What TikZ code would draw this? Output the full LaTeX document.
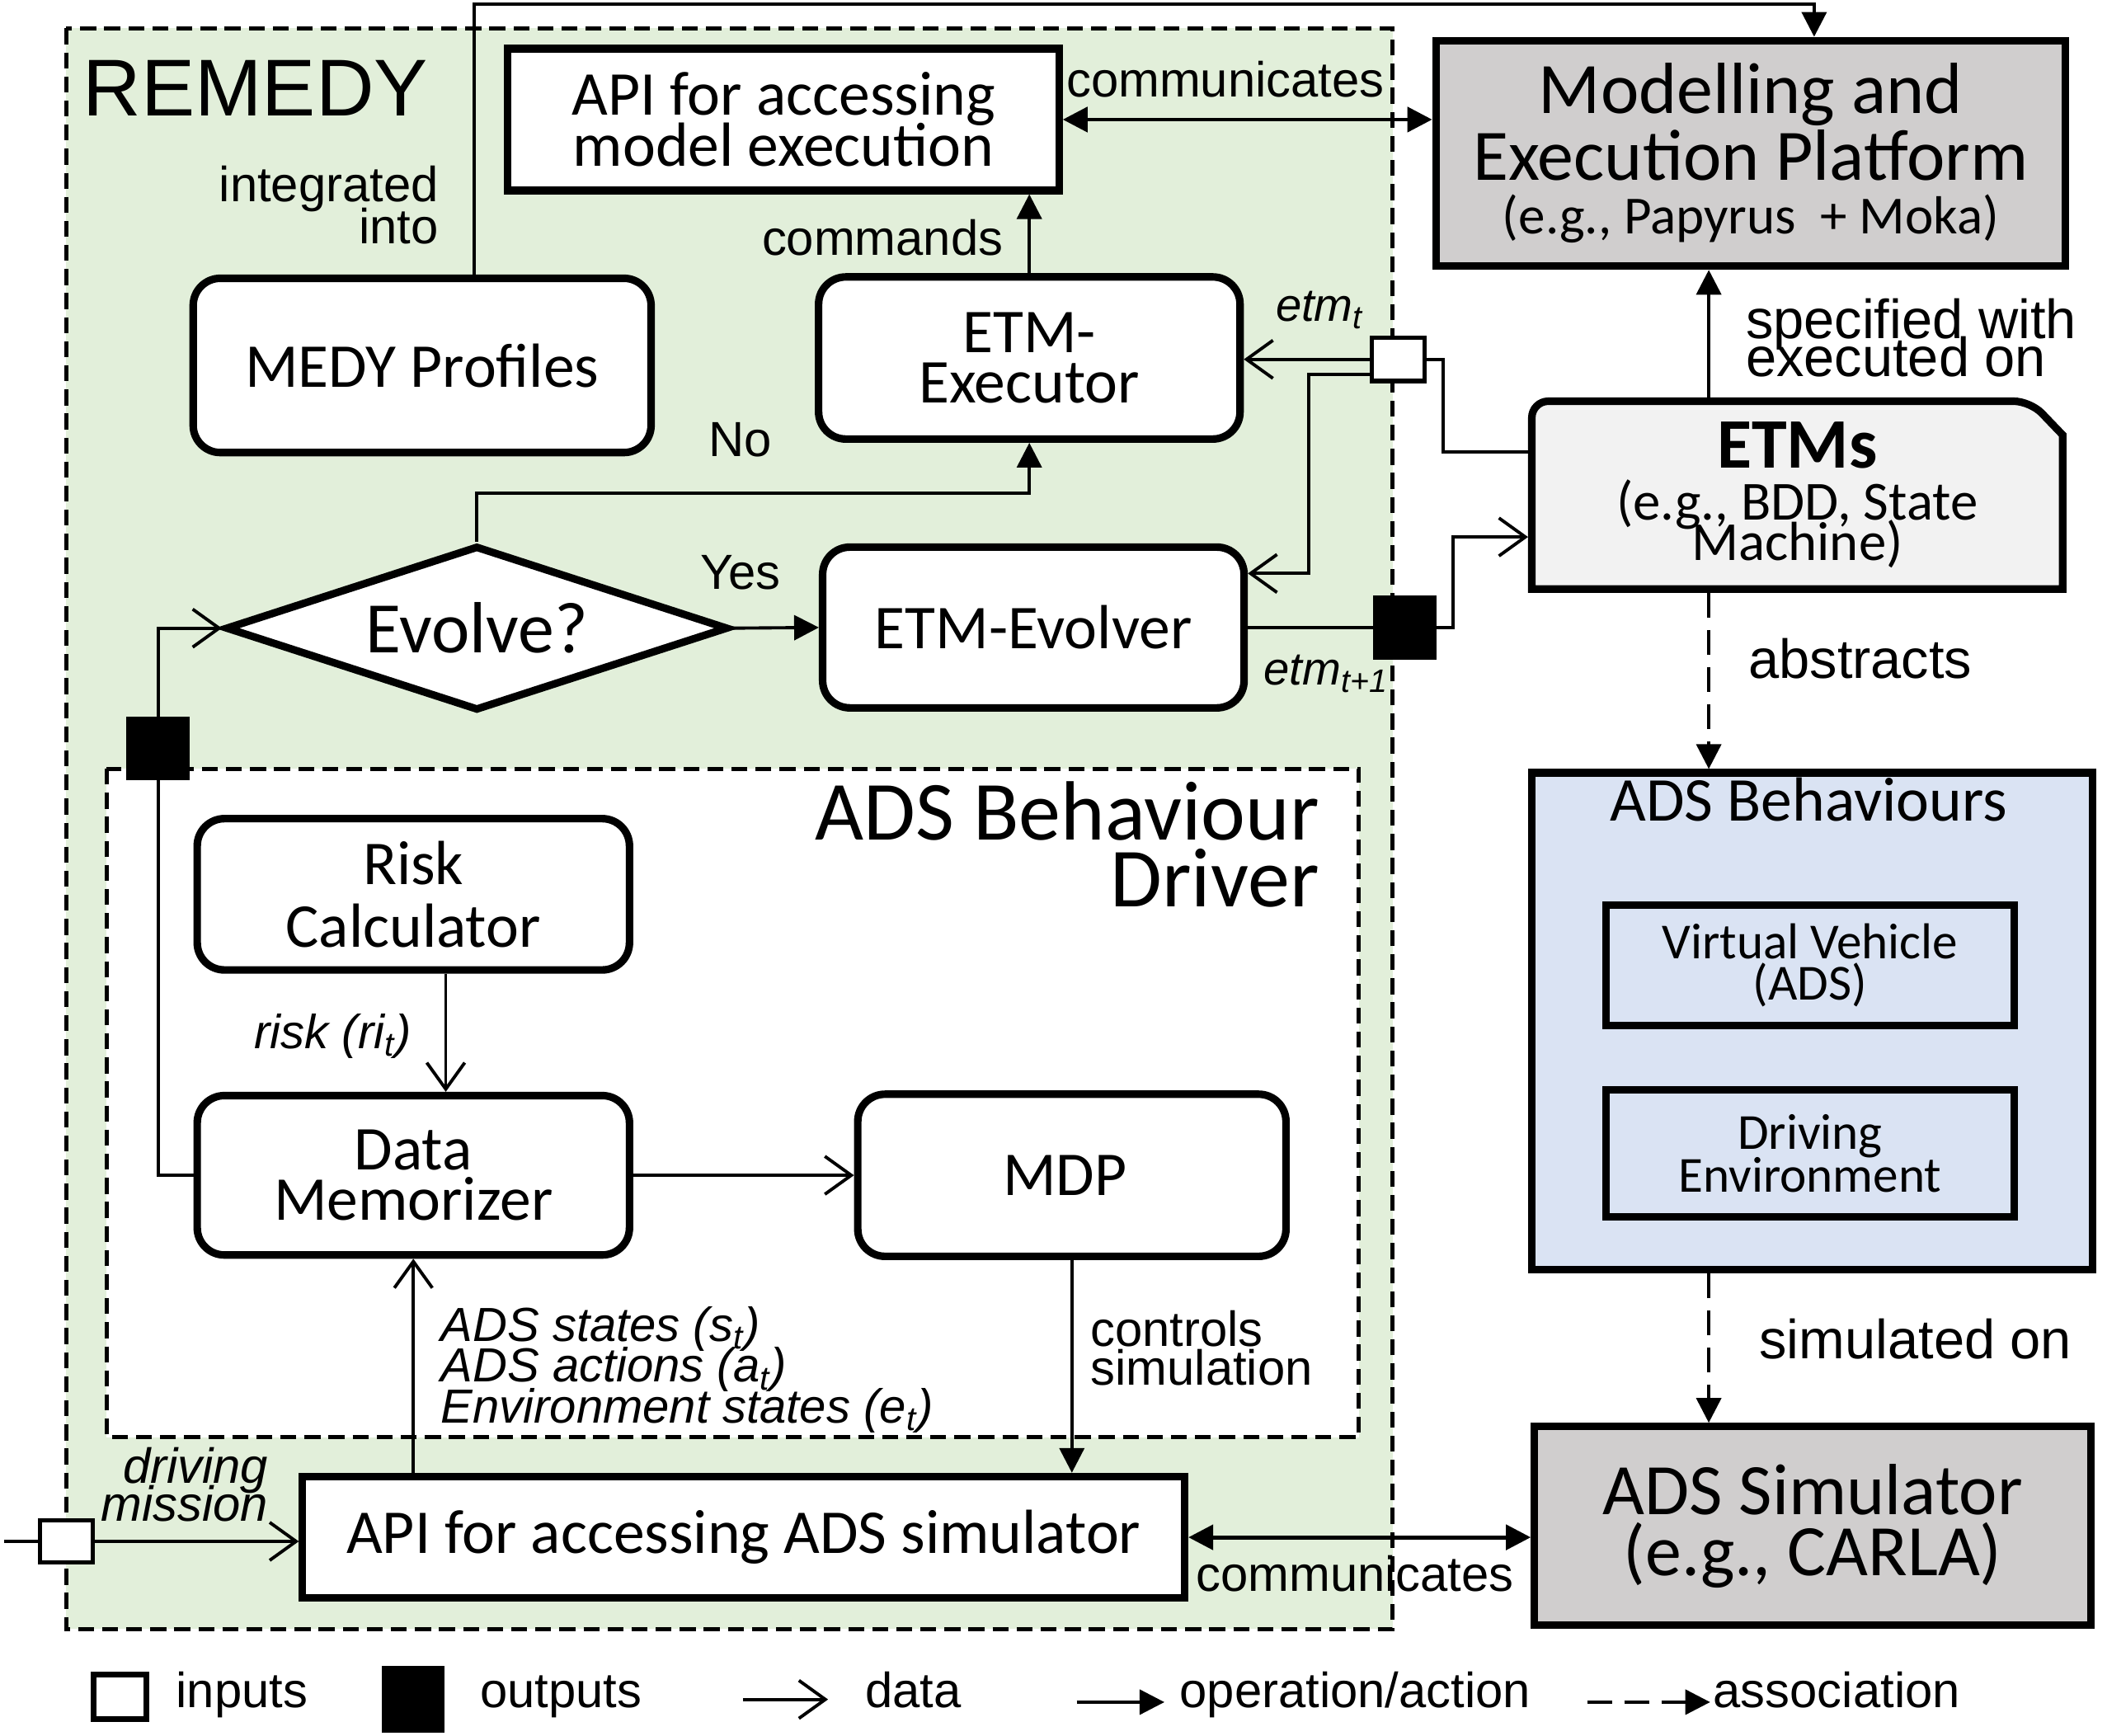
\documentclass[tikz,border=0pt]{standalone}
\usepackage{fontspec}
\setmainfont{Carlito}
\newfontfamily\lblfont{Liberation Sans}
\usetikzlibrary{arrows.meta,shapes.geometric,calc}
\newcommand{\dpx}{0.01638cm}
\lineskiplimit=-100pt
\definecolor{remgreen}{HTML}{E2EFDA}
\definecolor{platgray}{HTML}{D0CECE}
\definecolor{etmgray}{HTML}{F2F2F2}
\definecolor{behblue}{HTML}{DAE3F3}

\begin{document}
\begin{tikzpicture}[x=0.01638cm, y=-0.01638cm,
    wh/.style 2 args={minimum width=#1*\dpx, minimum height=#2*\dpx},
    box/.style={draw, line width=2.6pt, fill=white, inner sep=0pt, align=center,
        font=\fontsize{21.5}{17.5}\selectfont},
    proc/.style={box, rounded corners=0.33cm},
    port/.style={draw, line width=1.5pt, fill=white, inner sep=0pt},
    oport/.style={port, fill=black},
    region/.style={line width=1.4pt, dash pattern=on 5.5pt off 2.8pt},
    lbl/.style={inner sep=0pt, font=\lblfont\fontsize{17}{14.5}\selectfont},
    rlbl/.style={inner sep=0pt, font=\lblfont\fontsize{19}{13}\selectfont},
    itl/.style={inner sep=0pt, font=\lblfont\itshape\fontsize{16.5}{14}\selectfont},
    line/.style={line width=1.1pt},
    data/.style={line, -{Straight Barb[length=0.32cm,width=0.46cm]}},
    op/.style={line, -{Triangle[length=0.3cm,width=0.3cm]}},
    assoc/.style={op, dash pattern=on 8.5pt off 4.3pt},
    both/.style={line width=1.4pt, {Triangle[length=0.3cm,width=0.3cm]}-{Triangle[length=0.3cm,width=0.3cm]}}
    ]
    \useasboundingbox (0,0) rectangle (1559.8,1284.5);

    \draw[region, fill=remgreen] (49,21) rectangle (1031,1206);
    \draw[region, fill=white] (79,569) rectangle (1006,1064);
    \node[inner sep=0pt, anchor=base west, font=\lblfont\fontsize{27.8}{30}\selectfont] (remT) at (61,86) {REMEDY};
    \node[inner sep=0pt, anchor=east, align=right, font=\fontsize{29}{23}\selectfont] (drvT) at (977,625) {ADS Behaviour\\Driver};

    \foreach \n/\x/\w/\h/\l in{
        medy/{(312.5,270.5)}/339/129/{MEDY Profiles},
        exec/{(762,265)}/312/120/{ETM-\\Executor},
        evol/{(765,464.5)}/312/119/{ETM-Evolver},
        risk/{(306,662)}/320/112/{Risk\\[4pt]Calculator},
        memo/{(306,870)}/320/118/{Data\\Memorizer},
        mdp/{(793.5,870)}/317/120/{MDP}
        }
        {
            \node[proc, wh={\w}{\h}] (\n) at \x {\l};
        }
    \node[box, wh={408}{105}] (apiM) at (580,88.5) {API for accessing\\model execution};
    \node[box, wh={653}{90}] (apiS) at (550.5,1138) {API for accessing ADS simulator};
    \node[box, fill=platgray, wh={466}{167}, font=\fontsize{25}{23}\selectfont] (model) at (1296,113.5)
        {Modelling and\\Execution Platform\\[-4.4pt]{\fontsize{18.5}{18.5}\selectfont (e.g., Papyrus\ \ + Moka)}};
    \node[box, fill=platgray, wh={412}{147}, font=\fontsize{25}{21}\selectfont] (sim) at (1342,1129.5)
        {ADS Simulator\\(e.g., CARLA)};
    \node[box, fill=behblue, wh={415}{368}] (beh) at (1341.5,756) {};
    \node[inner sep=0pt, anchor=base, font=\fontsize{21.5}{21.5}\selectfont] (behT) at (1339,608) {ADS Behaviours};
    \node[box, fill=behblue, wh={302}{89}, font=\fontsize{17.4}{14.4}\selectfont] (vv) at (1340,714.5) {Virtual Vehicle\\(ADS)};
    \node[box, fill=behblue, wh={302}{94}, font=\fontsize{17.4}{14.9}\selectfont] (denv) at (1340,854) {Driving\\Environment};
    \draw[line width=2.6pt, fill=etmgray] (1134,436) [rounded corners=0.2cm] -- (1134,297) -- (1503,297)
        [sharp corners] -- (1527,322) -- (1527,436) -- cycle;
    \node[line width=2.6pt, inner sep=0pt, align=center, wh={393}{139}, font=\fontsize{19}{14}\selectfont] (etms) at (1330.5,366.5)
        {{\fontsize{24.5}{24.5}\selectfont\bfseries ETMs}\\[4pt](e.g., BDD, State\\Machine)};
    \node[draw, line width=2.6pt, fill=white, diamond, aspect=2.95, inner sep=0pt, wh={372}{122},
        font=\fontsize{25}{25}\selectfont] (evolve) at (353,465) {Evolve?};

    \node[port, wh={39}{32}] (pin1) at (1035,266) {};
    \node[oport, wh={44}{44}] (pout1) at (1040,464.5) {};
    \node[oport, wh={44}{44}] (pout2) at (117,554) {};
    \node[port, wh={39}{31}] (pin2) at (49,1141) {};

    \draw[op] ($(medy.north)+(38.5,0)$) |- ($(model.north)+(47,-24)$) -- ($(model.north)+(47,0)$);
    \node[lbl, anchor=east, align=right] (intT) at (325,152) {integrated\\into};
    \draw[both] (apiM.east) -- (model.west |- apiM.east);
    \node[lbl, anchor=base west] (comT) at (789,72) {communicates};
    \draw[op] (exec.north) -- (exec.north |- apiM.south);
    \node[lbl, anchor=base east] (cmdT) at (743,189) {commands};

    \draw[data] (pin1.west) -- (exec.east |- pin1.west);
    \coordinate (k1) at (969,277);
    \draw[data] (pin1.west |- k1) -- (k1) |- ($(evol.east)+(0,-40)$);
    \draw[line] (pin1.east) -- ++(12,0) |- ($(etms.west)+(0,-32)$);
    \node[itl, anchor=base west, font=\lblfont\itshape\fontsize{16}{16}\selectfont] (etmT) at (944,238) {etm\textsubscript{t}};
    \draw[line] (evol.east) -- (pout1.west);
    \draw[data] (pout1.east) -- ++(12,0) |- ($(etms.west)+(0,31)$);
    \node[itl, anchor=base west, font=\lblfont\itshape\fontsize{16}{16}\selectfont] (etmN) at (935,507) {etm\textsubscript{t+1}};

    \draw[op] (evolve.north) -- ++(0,-36) -| (exec.south);
    \node[lbl, anchor=base west] (noT) at (524,338) {No};
    \draw[op] (evolve.east) -- (evol.west);
    \node[lbl, anchor=base west] (yesT) at (518,436) {Yes};
    \draw[line] (memo.west) -| (pout2.south);
    \draw[data] (pout2.north) |- (evolve.west);

    \draw[data] ($(risk.south)+(24,0)$) -- ($(memo.north)+(24,0)$);
    \node[itl, anchor=base east] (riskT) at (305,776) {risk (ri\textsubscript{t})};
    \draw[data] (memo.east) -- (mdp.west);
    \draw[data] (memo.south |- apiS.north) -- (memo.south);
    \node[itl, anchor=west, align=left] (stT) at (326,1014)
        {ADS states (s\textsubscript{t})\\ADS actions (a\textsubscript{t})\\Environment states (e\textsubscript{t})};
    \draw[op] (mdp.south) -- (mdp.south |- apiS.north);
    \node[lbl, anchor=west, align=left, font=\lblfont\fontsize{17}{13.5}\selectfont] (ctlT) at (807,998) {controls\\simulation};

    \coordinate (mis) at (3,1141);
    \draw[line] (mis) -- (pin2.west);
    \draw[data] (pin2.east) -- (apiS.west |- pin2.east);
    \node[itl, anchor=east, align=right, font=\lblfont\itshape\fontsize{17}{13}\selectfont] (misT) at (199,1099) {driving\\mission};
    \draw[both] (apiS.east) -- (sim.west |- apiS.east);
    \node[lbl, anchor=base west] (comB) at (885,1178) {communicates};

    \coordinate (rc) at (1265,0);
    \draw[op] (etms.north -| rc) -- (model.south -| rc);
    \node[rlbl, anchor=west, align=left] (specT) at (1292,250) {specified with\\executed on};
    \draw[assoc] (etms.south -| rc) -- (beh.north -| rc);
    \node[rlbl, anchor=base west] (absT) at (1294,502) {abstracts};
    \draw[assoc] (beh.south -| rc) -- (sim.north -| rc);
    \node[rlbl, anchor=base west] (simT) at (1302,1006) {simulated on};

    \node[port, line width=2pt, wh={39}{33}] (lgIn) at (89,1256) {};
    \node[lbl, anchor=base west] (lgInT) at (130,1264) {inputs};
    \node[oport, wh={43}{46}] (lgOut) at (306,1258) {};
    \node[lbl, anchor=base west] (lgOutT) at (355,1264) {outputs};
    \coordinate (lgD1) at (550,1258);
    \coordinate (lgD2) at (613,1258);
    \draw[data] (lgD1) -- (lgD2);
    \node[lbl, anchor=base west] (lgDT) at (640,1264) {data};
    \coordinate (lgO1) at (797,1260);
    \coordinate (lgO2) at (862,1260);
    \draw[op] (lgO1) -- (lgO2);
    \node[lbl, anchor=base west] (lgOT) at (873,1264) {operation/action};
    \coordinate (lgA1) at (1175,1260);
    \coordinate (lgA2) at (1266,1260);
    \draw[assoc] (lgA1) -- (lgA2);
    \node[lbl, anchor=base west] (lgAT) at (1268,1264) {association};
\end{tikzpicture}
\end{document}
